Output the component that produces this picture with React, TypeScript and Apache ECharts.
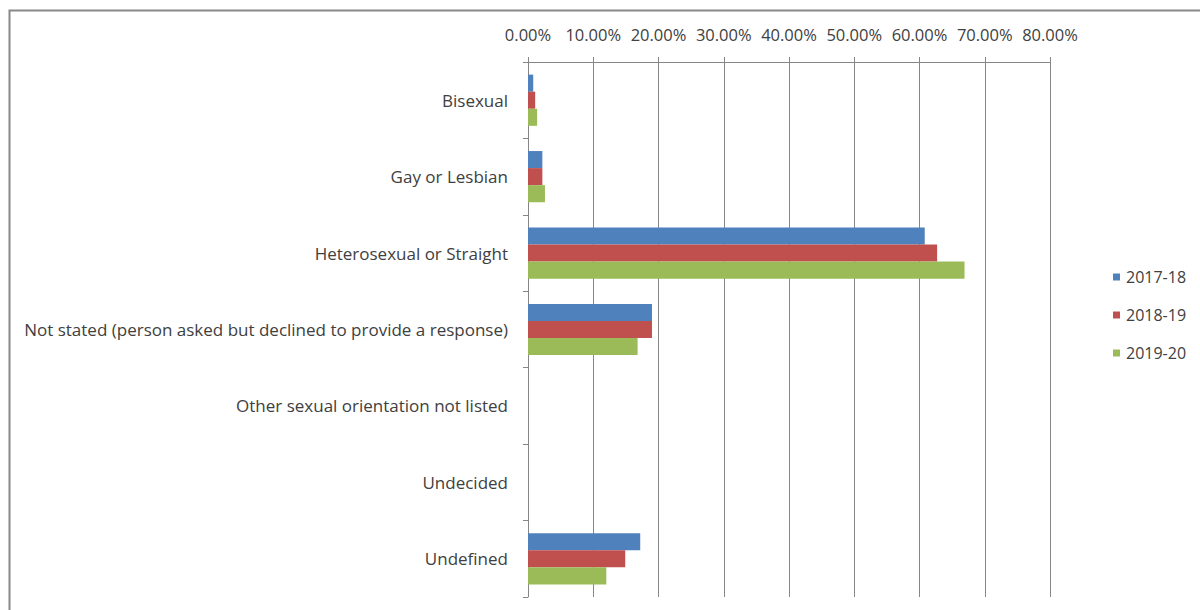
import React, { useEffect, useRef } from "react";
import * as echarts from "echarts";

const categories = [
  "Bisexual",
  "Gay or Lesbian",
  "Heterosexual or Straight",
  "Not stated (person asked but declined to provide a response)",
  "Other sexual orientation not listed",
  "Undecided",
  "Undefined",
];
const tickValues = [0, 10, 20, 30, 40, 50, 60, 70, 80];
const s2017 = [0.8, 2.2, 60.8, 19.0, 0, 0, 17.2];
const s2018 = [1.1, 2.2, 62.7, 19.0, 0, 0, 14.9];
const s2019 = [1.4, 2.6, 66.9, 16.8, 0, 0, 12.0];
const seriesNames = ["2017-18", "2018-19", "2019-20"];
const colors = ["#4F81BD", "#C0504D", "#9BBB59"];

const FONT = "Open Sans";
const FS = 16.5;

export default function App() {
  const ref = useRef<HTMLDivElement>(null);
  useEffect(() => {
    if (!ref.current) return;
    const chart = echarts.init(ref.current, null, { renderer: "svg" });
    const data = [s2017, s2018, s2019];
    chart.setOption({
      animation: false,
      backgroundColor: "#ffffff",
      textStyle: { fontFamily: FONT },
      graphic: [
        {
          type: "rect",
          shape: { x: 9.5, y: 10.5, width: 1300, height: 700 },
          style: { fill: "none", stroke: "#888888", lineWidth: 2 },
          silent: true,
        },
      ],
      grid: { left: 528, top: 62, width: 522, height: 535, containLabel: false },
      legend: {
        orient: "vertical",
        left: 1108,
        top: 264,
        itemWidth: 7,
        itemHeight: 7,
        itemGap: 22,
        icon: "rect",
        data: seriesNames,
        textStyle: { fontFamily: FONT, fontSize: 16, color: "#404040", padding: [0, 0, 0, 1] },
      },
      xAxis: {
        type: "value",
        position: "top",
        min: 0,
        max: 80,
        interval: 10,
        axisLine: { show: true, lineStyle: { color: "#868686", width: 1 } },
        axisTick: { show: true, length: 5, lineStyle: { color: "#868686" } },
        splitLine: { show: true, lineStyle: { color: "#868686", width: 1 } },
        axisLabel: {
          margin: 19,
          fontFamily: FONT,
          fontSize: FS,
          color: "#404040",
          formatter: (v: number) => (tickValues.includes(v) ? v.toFixed(2) + "%" : ""),
        },
      },
      yAxis: {
        type: "category",
        inverse: true,
        data: categories,
        axisLine: { show: true, lineStyle: { color: "#868686", width: 1 } },
        axisTick: { show: true, length: 5, lineStyle: { color: "#868686" } },
        axisLabel: { margin: 20, fontFamily: FONT, fontSize: 17, color: "#404040" },
      },
      series: seriesNames.map((name, i) => ({
        name,
        type: "bar",
        data: data[i],
        itemStyle: { color: colors[i] },
        barGap: "0%",
        barCategoryGap: "33%",
      })),
    });
    return () => chart.dispose();
  }, []);
  return <div ref={ref} style={{ width: 1200, height: 610, position: "absolute", left: 0, top: 0 }} />;
}
